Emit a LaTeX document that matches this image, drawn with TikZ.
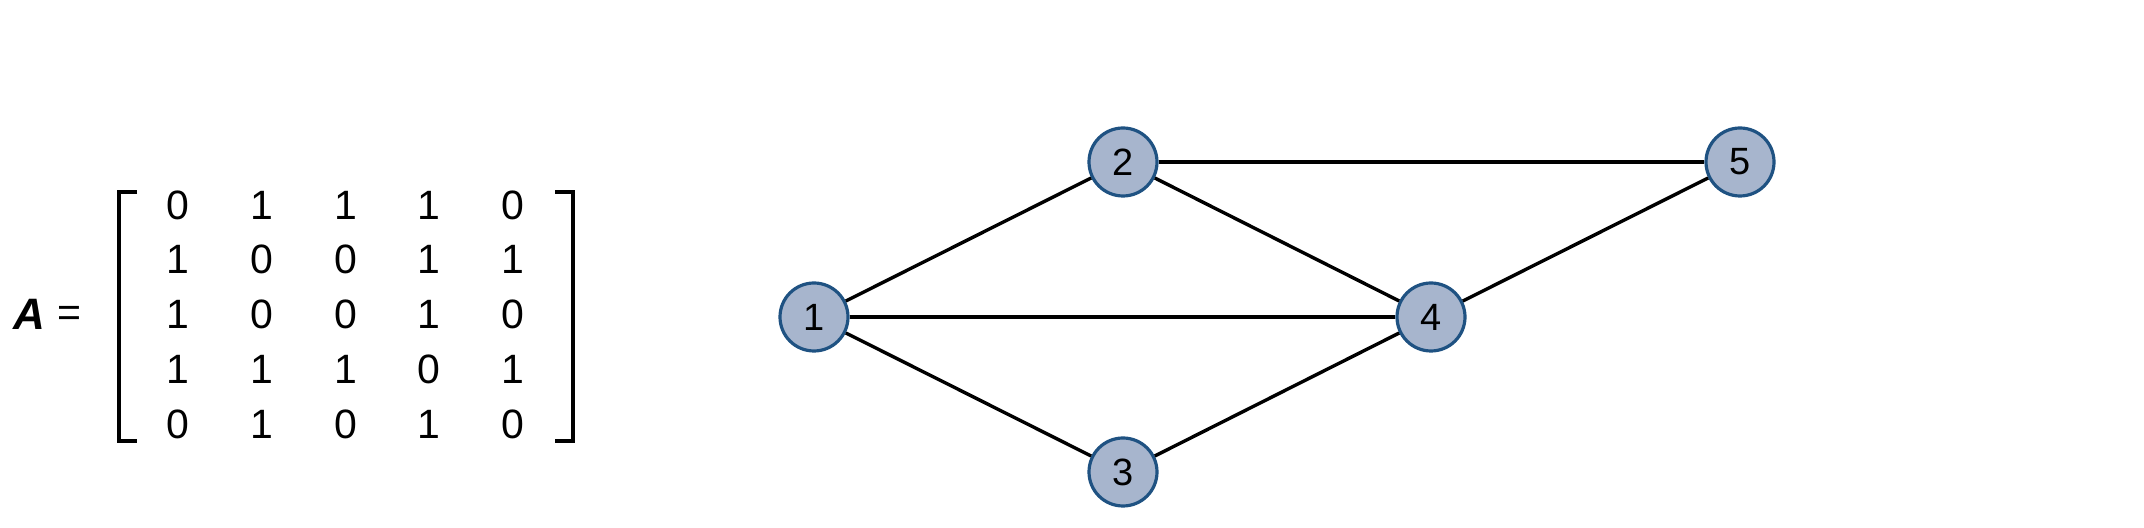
\documentclass[tikz,border=0pt]{standalone}
\usepackage{fontspec}
\setmainfont{Liberation Sans}
\definecolor{nodefill}{HTML}{A7B5CD}
\definecolor{nodeline}{HTML}{1F5282}
\begin{document}
\begin{tikzpicture}[x=0.5pt,y=-0.5pt,
  vert/.style={circle,draw=nodeline,fill=nodefill,line width=1.6pt,minimum size=34pt,inner sep=0pt,font=\fontsize{19}{22}\selectfont},
  edge/.style={line width=1.7pt,black},
  brk/.style={line width=2.2pt,black},
  entry/.style={font=\fontsize{20.5}{24}\selectfont,inner sep=0pt}]
\useasboundingbox (0,0) rectangle (2144,528);
% matrix label
\node[entry,font=\fontsize{22}{26}\selectfont\bfseries\itshape] (A) at (29,314) {A};
\node[entry] (eq) at (69,316) {=};
% brackets
\coordinate (lt) at (119,192);
\coordinate (lb) at (119,441);
\coordinate (rt) at (573,192);
\coordinate (rb) at (573,441);
\draw[brk] ([xshift=9pt]lt) -- (lt) -- (lb) -- ([xshift=9pt]lb);
\draw[brk] ([xshift=-9pt]rt) -- (rt) -- (rb) -- ([xshift=-9pt]rb);
% entries
\foreach \row [count=\i] in {{0,1,1,1,0},{1,0,0,1,1},{1,0,0,1,0},{1,1,1,0,1},{0,1,0,1,0}}{
  \foreach \v [count=\j] in \row {
    \pgfmathsetmacro{\xx}{178+(\j-1)*83.7}
    \pgfmathsetmacro{\yy}{205+(\i-1)*54.8}
    \node[entry] (m\i\j) at (\xx,\yy) {\v};
  }
}
% graph
\node[vert] (n1) at (814,317) {1};
\node[vert] (n2) at (1123,162) {2};
\node[vert] (n3) at (1123,472) {3};
\node[vert] (n4) at (1431,317) {4};
\node[vert] (n5) at (1740,162) {5};
\draw[edge] (n1) -- (n2);
\draw[edge] (n1) -- (n4);
\draw[edge] (n1) -- (n3);
\draw[edge] (n2) -- (n5);
\draw[edge] (n2) -- (n4);
\draw[edge] (n3) -- (n4);
\draw[edge] (n4) -- (n5);
\end{tikzpicture}
\end{document}
